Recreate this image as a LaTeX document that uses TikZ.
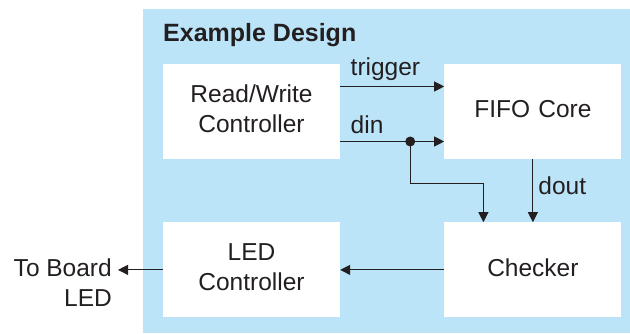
\documentclass[tikz,border=0pt]{standalone}
\usepackage{fontspec}
\setmainfont{Liberation Sans}
\usetikzlibrary{arrows.meta,positioning}
\definecolor{designblue}{RGB}{188,228,248}
\definecolor{ink}{RGB}{35,31,32}

\begin{document}
\begin{tikzpicture}[x=1pt, y=1pt, node distance=104pt,
    font=\fontsize{24.5}{30}\selectfont,
    block/.style={rectangle, fill=white, text width=177pt, minimum height=95pt, text centered, inner sep=0pt, text=ink,
        execute at end node={\endgraf\vspace*{5pt}}},
    arrow/.style={ink, line width=1pt, -{Triangle[length=10pt,width=10pt]}},
    sig/.style={text=ink, inner sep=0pt}]

    \useasboundingbox (0,0) rectangle (630,333);
    \fill [designblue] (143,0) rectangle (630,324);

    % Nodes
    \node [sig, anchor=west, font=\fontsize{25}{30}\selectfont\bfseries] (title) at (163,298) {Example Design};
    \node [block] (rw) at (251.5,221.5) {Read/Write\\Controller};
    \node [block, right=104pt of rw] (fifo) {FIFO Core};
    \node [block, below=63pt of rw] (led) {LED\\Controller};
    \node [block, right=104pt of led] (check) {Checker};
    \node [sig, align=right, anchor=east] (board) at (112,50.5) {To Board\\LED};
    \coordinate (tap) at ([xshift=70pt, yshift=-30pt]rw.east);

    % Arrows
    \draw [arrow] ([yshift=25pt]rw.east) -- node [sig, anchor=base west, pos=0, xshift=10pt, yshift=11pt] {trigger} ([yshift=25pt]fifo.west);
    \draw [arrow] ([yshift=-30pt]rw.east) -- node [sig, anchor=base west, pos=0, xshift=10pt, yshift=8pt] {din} ([yshift=-30pt]fifo.west);
    \fill [ink] (tap) circle (5pt);
    \draw [arrow] (tap) -- ++(0,-42) -| ([xshift=-49.5pt]check.north);
    \draw [arrow] (fifo) -- node [sig, anchor=west, pos=0.42, xshift=5pt] {dout} (check);
    \draw [arrow] (check) -- (led);
    \draw [arrow] (led) -- ([xshift=6pt]board.east |- led.west);

\end{tikzpicture}
\end{document}
